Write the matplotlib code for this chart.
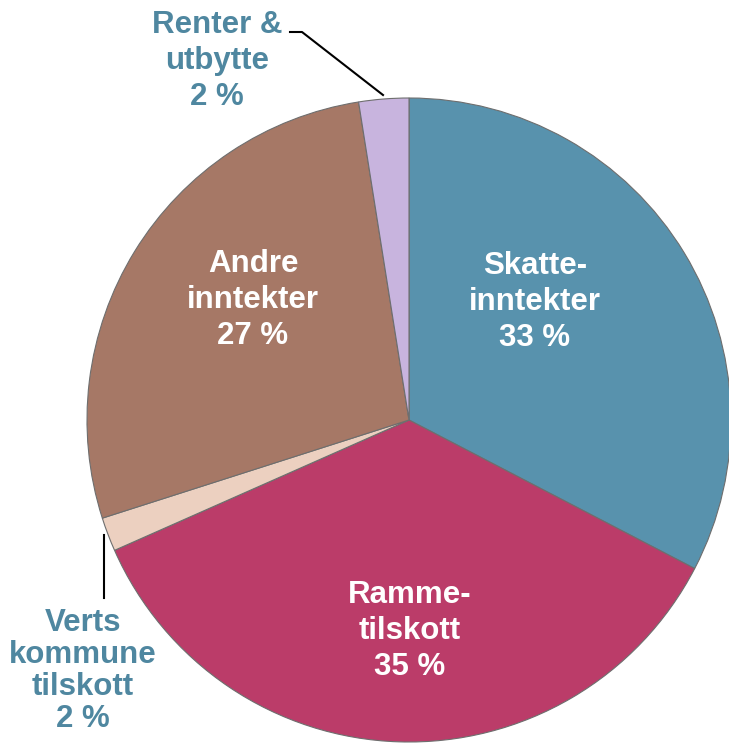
import matplotlib
matplotlib.use("Agg")
from matplotlib import pyplot as plt

# slice shares, clockwise from 12 o'clock
names = ["Skatte-\ninntekter", "Ramme-\ntilskott", "Verts\nkommune\ntilskott", "Andre\ninntekter", "Renter &\nutbytte"]
shares = [32.6, 35.7, 1.7, 27.4, 2.5]
shown_pct = ["33 %", "35 %", "2 %", "27 %", "2 %"]
colors = ["#5892ad", "#bb3c69", "#ecd0c0", "#a67866", "#c8b4de"]

plt.rcParams["font.family"] = ["Liberation Sans", "DejaVu Sans"]

W, H = 729, 744
fig = plt.figure(figsize=(W / 100, H / 100), dpi=100)
ax = fig.add_axes([0, 0, 1, 1])

cx, cy, r = 409, 420, 322
wedges, _ = ax.pie(shares, colors=colors, startangle=90, counterclock=False,
                   center=(cx, H - cy), radius=r, frame=True,
                   wedgeprops=dict(edgecolor="#6e6e6e", linewidth=0.8))
ax.set_xlim(0, W)
ax.set_ylim(0, H)
ax.set_aspect("equal")
ax.axis("off")

inside = "white"
outside = "#4f87a0"
fs = 22.5

def px(x, y):
    return x, H - y

ax.text(*px(535, 302), names[0] + "\n" + shown_pct[0], color=inside, fontsize=fs,
        fontweight="bold", ha="center", va="center", linespacing=1.28)
ax.text(*px(410, 631), names[1] + "\n" + shown_pct[1], color=inside, fontsize=fs,
        fontweight="bold", ha="center", va="center", linespacing=1.24)
ax.text(*px(253, 300), names[3] + "\n" + shown_pct[3], color=inside, fontsize=fs,
        fontweight="bold", ha="center", va="center", linespacing=1.28)
ax.text(*px(83, 671), names[2] + "\n" + shown_pct[2], color=outside, fontsize=fs,
        fontweight="bold", ha="center", va="center", linespacing=1.1)
ax.text(*px(217, 61), names[4] + "\n" + shown_pct[4], color=outside, fontsize=fs,
        fontweight="bold", ha="center", va="center", linespacing=1.25)

# leader lines
ax.plot([290, 302, 383], [H - 32, H - 32, H - 95], color="black", lw=1.5)
ax.plot([104, 104], [H - 535, H - 598], color="black", lw=1.5)

fig.savefig("out.png", dpi=100)
